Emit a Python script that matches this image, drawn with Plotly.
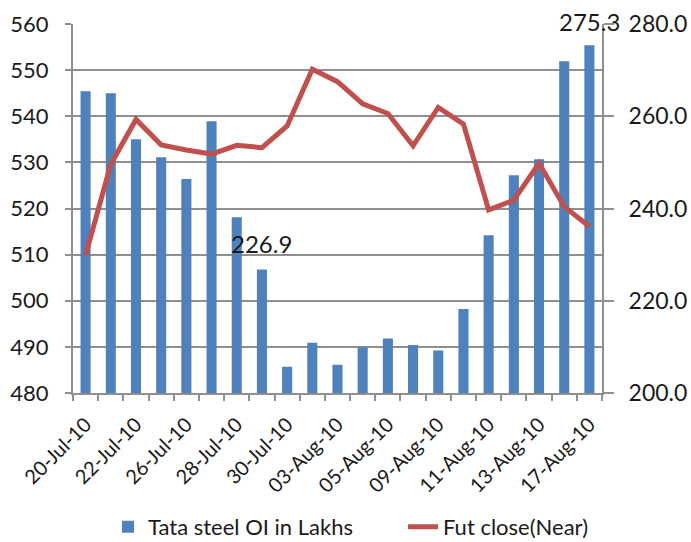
import plotly.graph_objects as go

dates = ["20-Jul-10", "21-Jul-10", "22-Jul-10", "23-Jul-10", "26-Jul-10", "27-Jul-10",
         "28-Jul-10", "29-Jul-10", "30-Jul-10", "02-Aug-10", "03-Aug-10", "04-Aug-10",
         "05-Aug-10", "06-Aug-10", "09-Aug-10", "10-Aug-10", "11-Aug-10", "12-Aug-10",
         "13-Aug-10", "16-Aug-10", "17-Aug-10"]
oi_lakhs = [545.4, 545.0, 535.0, 531.1, 526.4, 538.9, 518.1, 506.8, 485.7, 490.9, 486.1,
            489.9, 491.8, 490.4, 489.2, 498.2, 514.2, 527.2, 530.7, 551.9, 555.4]
fut_close = [229.9, 249.6, 259.3, 253.8, 252.7, 251.8, 253.7, 253.2, 257.9, 270.2, 267.5,
             262.7, 260.6, 253.6, 261.9, 258.3, 239.7, 241.8, 249.8, 240.4, 236.1]
tick_labels = [d if i % 2 == 0 else "" for i, d in enumerate(dates)]

FONT = "Lato, sans-serif"
GRID = "#8f8f8f"

fig = go.Figure()
fig.add_trace(go.Bar(x=dates, y=oi_lakhs, name="Tata steel OI in Lakhs",
                     marker=dict(color="#4F81BD", line=dict(width=0)), width=0.4,
                     legend="legend"))
fig.add_trace(go.Scatter(x=dates, y=fut_close, name="Fut close(Near)", yaxis="y2",
                         mode="lines", line=dict(color="#C0504D", width=5),
                         legend="legend2"))

fig.update_layout(
    width=691, height=542,
    margin=dict(l=73, r=89, t=24, b=149, autoexpand=False),
    paper_bgcolor="white", plot_bgcolor="white",
    font=dict(family=FONT, size=22, color="#1a1a1a"),
    showlegend=True,
    legend=dict(orientation="h", x=35 / 529, xanchor="left", y=-0.363,
                yanchor="middle", font=dict(size=22), bgcolor="rgba(0,0,0,0)"),
    legend2=dict(orientation="h", x=330 / 529, xanchor="left", y=-0.363,
                 yanchor="middle", font=dict(size=22), bgcolor="rgba(0,0,0,0)"),
    xaxis=dict(type="category", tickvals=dates, ticktext=tick_labels, tickangle=-45,
               tickson="boundaries", ticks="outside", ticklen=6, tickcolor=GRID,
               tickwidth=2, showline=True, linecolor=GRID, linewidth=2, showgrid=False,
               tickfont=dict(size=20), ticklabelstandoff=10, range=[-0.5, 20.5]),
    yaxis=dict(range=[480, 560], dtick=10, tick0=480, showgrid=True, gridcolor=GRID,
               gridwidth=2, showline=True, linecolor=GRID, linewidth=2, ticks="outside",
               ticklen=6, tickwidth=2, tickcolor=GRID, tickfont=dict(size=22),
               ticklabelstandoff=12, zeroline=False),
    yaxis2=dict(range=[200, 280], dtick=20, tick0=200, overlaying="y", side="right",
                showgrid=False, showline=True, linecolor=GRID, linewidth=2,
                ticks="outside", ticklen=10, tickwidth=2, tickcolor=GRID,
                tickformat=".1f", tickfont=dict(size=23), ticklabelstandoff=10,
                zeroline=False),
    annotations=[
        dict(x=dates[7], y=512.5, xref="x", yref="y", text="226.9", showarrow=False,
             font=dict(size=24)),
        dict(x=dates[20], y=1.008, xref="x", yref="paper", text="275.3", showarrow=False,
             yanchor="middle", font=dict(size=24)),
    ],
)

fig.write_html("out.html", config={"displayModeBar": False},
               post_script="document.body.style.margin='0px';")
